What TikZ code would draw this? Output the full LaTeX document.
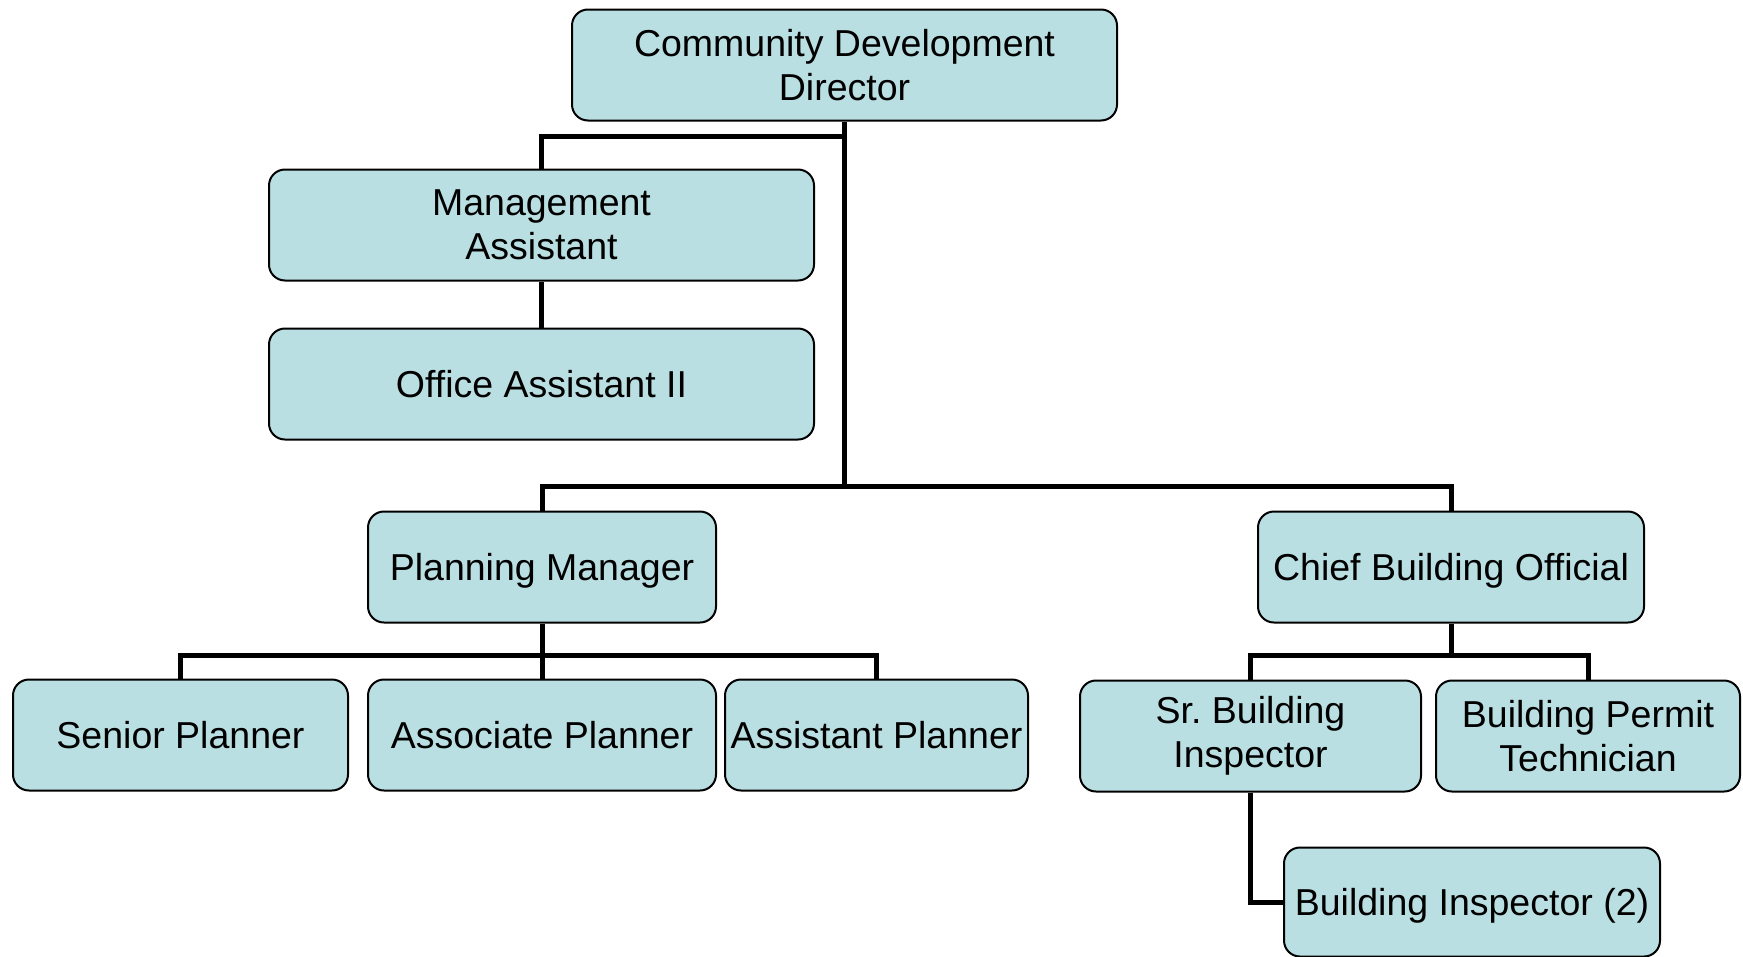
\documentclass[tikz,border=0pt]{standalone}
\usepackage{fontspec}
\setmainfont{Liberation Sans}
\definecolor{boxblue}{RGB}{186,223,226}
\begin{document}
\begin{tikzpicture}[x=1pt, y=-1pt,
  post/.style={draw=black, line width=2pt, fill=boxblue, rounded corners=16pt,
    align=center, inner sep=0pt, minimum height=111pt,
    font=\fontsize{37.5}{44.5}\selectfont},
  oneline/.style={text depth=0pt},
  link/.style={line width=5pt}]
\useasboundingbox (0,0) rectangle (1743,956);

\node[post, minimum width=545pt] (dir) at (844.5,65) {Community Development\\Director};
\node[post, minimum width=545pt] (mgmt) at (541.5,225) {Management\\Assistant};
\node[post, oneline, minimum width=545pt] (office) at (541.5,384) {Office Assistant II};

\node[post, oneline, minimum width=348pt] (plan) at (542,567) {Planning Manager};
\node[post, oneline, minimum width=386pt] (chief) at (1451,567) {Chief Building Official};

\node[post, oneline, minimum width=335pt] (senior) at (180.5,735) {Senior Planner};
\node[post, oneline, minimum width=348pt] (assoc) at (542,735) {Associate Planner};
\node[post, oneline, minimum width=303pt] (asst) at (876.5,735) {Assistant Planner};
\node[post, minimum width=341pt] (srbi) at (1250.5,736) {Sr.\ Building\\Inspector};
\node[post, minimum width=304pt] (permit) at (1588,736) {Building Permit\\Technician};
\node[post, oneline, minimum width=376pt, minimum height=109pt] (bi) at (1472,902) {Building Inspector (2)};

\coordinate (j1) at (844.5,136);
\coordinate (j2) at (844.5,486);
\coordinate (j3) at (542,655);
\coordinate (j4) at (1451,655);

\draw[link] (dir.south) -- (j2);
\draw[link] (j1) -| (mgmt.north);
\draw[link] (mgmt.south) -- (office.north);
\draw[link] (plan.north) |- (j2) -| (chief.north);

\draw[link] (plan.south) -- (j3);
\draw[link] (senior.north) |- (j3) -| (asst.north);
\draw[link] (j3) -- (assoc.north);

\draw[link] (chief.south) -- (j4);
\draw[link] (srbi.north) |- (j4) -| (permit.north);
\draw[link] (srbi.south) |- (bi.west);
\end{tikzpicture}
\end{document}
